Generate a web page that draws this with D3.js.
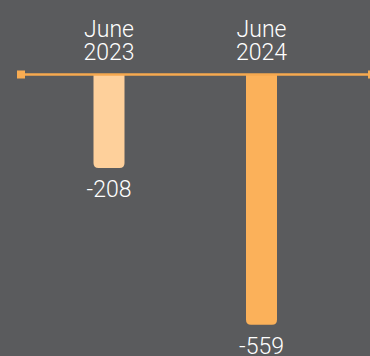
<!DOCTYPE html>
<html>
<head>
<meta charset="utf-8">
<script src="https://cdn.jsdelivr.net/npm/d3@7"></script>
<style>
  html, body { margin: 0; padding: 0; background: #5a5b5d; }
  svg { display: block; }
  text { font-family: "Helvetica Neue", Roboto, "Liberation Sans", Arial, sans-serif; font-weight: 300; fill: #ffffff; }
</style>
</head>
<body>
<svg id="chart" width="370" height="356"></svg>
<script>
// Period labels (two lines each) and net change values
const periods = ["June 2023", "June 2024"];
const periodLines = [["June", "2023"], ["June", "2024"]];
const values = [-208, -559];
const barColors = ["#fed09b", "#fbb15a"];

const W = 370, H = 356;
const zeroY = 75;
const svg = d3.select("#chart");

const x = d3.scalePoint().domain(periods).range([109, 261.5]);
const y = d3.scaleLinear().domain([0, -600]).range([zeroY, zeroY + 600 * 0.447]);

const barW = 31, r = 5;

// Bars: flat top at the zero line, rounded bottom corners
function barPath(cx, y0, y1) {
  const x0 = cx - barW / 2, x1 = cx + barW / 2;
  return `M${x0},${y0}L${x1},${y0}L${x1},${y1 - r}Q${x1},${y1} ${x1 - r},${y1}` +
         `L${x0 + r},${y1}Q${x0},${y1} ${x0},${y1 - r}Z`;
}

svg.selectAll("path.bar")
  .data(periods)
  .join("path")
  .attr("class", "bar")
  .attr("d", (d, i) => barPath(x(d), y(0), y(values[i])))
  .attr("fill", (d, i) => barColors[i]);

// Zero baseline with square end markers
svg.append("line")
  .attr("x1", 21).attr("x2", W)
  .attr("y1", y(0) - 0.5).attr("y2", y(0) - 0.5)
  .attr("stroke", "#f6a94f").attr("stroke-width", 2.5);
svg.append("rect").attr("x", 17).attr("y", y(0) - 4.5).attr("width", 8).attr("height", 8).attr("fill", "#f8ac52");
svg.append("rect").attr("x", 368).attr("y", y(0) - 4.5).attr("width", 8).attr("height", 8).attr("fill", "#f8ac52");

// Period labels above the baseline
const lab = svg.selectAll("text.period")
  .data(periods)
  .join("text")
  .attr("class", "period")
  .attr("text-anchor", "middle")
  .attr("font-size", 23);
lab.selectAll("tspan")
  .data((d, i) => periodLines[i].map(t => ({ t, cx: x(d) })))
  .join("tspan")
  .attr("x", d => d.cx)
  .attr("y", (d, j) => 37 + j * 23)
  .text(d => d.t);

// Value labels below each bar
svg.selectAll("text.value")
  .data(periods)
  .join("text")
  .attr("class", "value")
  .attr("text-anchor", "middle")
  .attr("font-size", 23)
  .attr("x", d => x(d))
  .attr("y", (d, i) => y(values[i]) + 29)
  .text((d, i) => values[i]);
</script>
</body>
</html>
